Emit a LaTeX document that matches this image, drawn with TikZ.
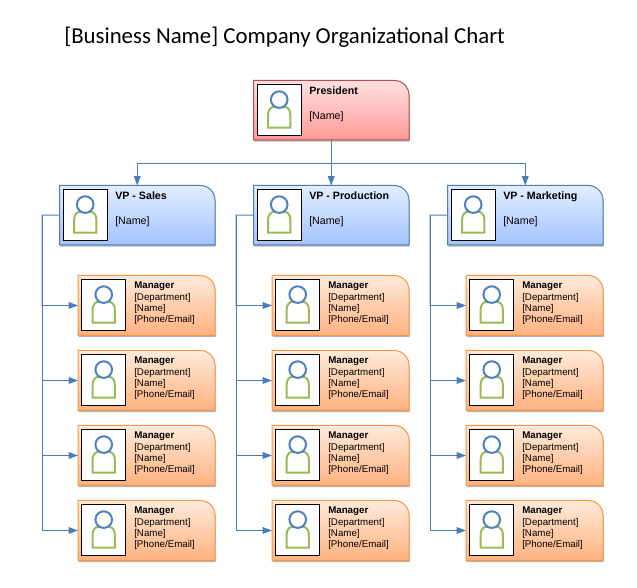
\documentclass[tikz,border=0pt]{standalone}
\usepackage{fontspec}
\setmainfont{Liberation Sans}
\newfontfamily\titlefont{Carlito}
\definecolor{orgblue}{RGB}{74,126,187}
\definecolor{orggreen}{RGB}{155,187,89}
\definecolor{orgcircle}{RGB}{79,129,189}
\definecolor{redtop}{RGB}{255,224,224}
\definecolor{redbot}{RGB}{255,153,153}
\definecolor{redline}{RGB}{190,75,72}
\definecolor{bluetop}{RGB}{226,237,255}
\definecolor{bluebot}{RGB}{163,196,255}
\definecolor{orangetop}{RGB}{255,234,218}
\definecolor{orangebot}{RGB}{255,178,127}
\definecolor{orangeline}{RGB}{247,150,70}
\usetikzlibrary{arrows.meta,positioning,calc}

% one card: name, x, y, width, height, colour style
\newcommand{\orgcard}[6]{
  \node[cardbase, minimum width=#4*0.75pt, minimum height=#5*0.75pt] (#1) at (#2,#3) {};
  \fill[black!30, transform canvas={xshift=0.5pt, yshift=-1.3pt}] (#1.south west) -- (#1.north west)
    [rounded corners=11pt] -- (#1.north east) [sharp corners] -- (#1.south east) -- cycle;
  \shade[#6] (#1.south west) -- (#1.north west)
    [rounded corners=11pt] -- (#1.north east) [sharp corners] -- (#1.south east) -- cycle;
  \node[photo] (#1p) at ([xshift=2.8pt, yshift=-3pt]#1.north west) {};
  \pic at (#1p.center) {person};
}
\newcommand{\mgrinfo}{\textbf{Manager}\\{[Department]}\\{[Name]}\\{[Phone/Email]}}

\begin{document}
\begin{tikzpicture}[
  x=0.75pt, y=-0.75pt,
  cardbase/.style={rectangle, anchor=north west, inner sep=0pt, outer sep=0pt},
  photo/.style={rectangle, anchor=north west, inner sep=0pt, outer sep=0pt,
    minimum width=33pt, minimum height=38.4pt, draw=black, line width=0.7pt, fill=white},
  redcard/.style={top color=redtop, bottom color=redbot, draw=redline, line width=0.75pt},
  bluecard/.style={top color=bluetop, bottom color=bluebot, draw=orgblue, line width=0.75pt},
  orangecard/.style={top color=orangetop, bottom color=orangebot, draw=orangeline, line width=0.75pt},
  headtext/.style={anchor=north west, inner sep=0pt, align=left, font=\fontsize{8}{9.4}\selectfont},
  mgrtext/.style={anchor=north west, inner sep=0pt, align=left, font=\fontsize{7.3}{8.5}\selectfont},
  conn/.style={-{Triangle[length=7pt, width=5pt]}, draw=orgblue, line width=0.72pt},
  person/.pic={
    \draw[orggreen, line width=1.5pt] (-11.2,17.5) -- (-11.2,5)
      .. controls (-11.2,-1) and (-8,-3.5) .. (-4,-3.5) -- (4,-3.5)
      .. controls (8,-3.5) and (11.2,-1) .. (11.2,5) -- (11.2,17.5) -- cycle;
    \draw[orgcircle, line width=1.5pt, fill=white] (0,-10.5) circle (8.3);
  }
]
\useasboundingbox (0,0) rectangle (637,588);

\node[anchor=west, inner sep=0pt, font=\titlefont\fontsize{17.1}{20}\selectfont] (title) at (64,37.5)
  {[Business Name] Company Organizational Chart};

\orgcard{pres}{253.5}{80.5}{155.5}{59.5}{redcard}
\orgcard{vpsales}{59.5}{185.5}{155.5}{59.5}{bluecard}
\orgcard{vpprod}{253.5}{185.5}{155.5}{59.5}{bluecard}
\orgcard{vpmark}{447.5}{185.5}{155.5}{59.5}{bluecard}

\orgcard{ma}{78}{275.5}{137}{60}{orangecard}
\orgcard{mb}{78}{350.5}{137}{60}{orangecard}
\orgcard{mc}{78}{425.5}{137}{60}{orangecard}
\orgcard{md}{78}{500.5}{137}{60}{orangecard}
\orgcard{pa}{272}{275.5}{137}{60}{orangecard}
\orgcard{pb}{272}{350.5}{137}{60}{orangecard}
\orgcard{pc}{272}{425.5}{137}{60}{orangecard}
\orgcard{pd}{272}{500.5}{137}{60}{orangecard}
\orgcard{ka}{466}{275.5}{137}{60}{orangecard}
\orgcard{kb}{466}{350.5}{137}{60}{orangecard}
\orgcard{kc}{466}{425.5}{137}{60}{orangecard}
\orgcard{kd}{466}{500.5}{137}{60}{orangecard}

\node[headtext] (prest) at (309,86.5) {\textbf{President}\\[9.4pt][Name]};
\node[headtext] (vpsalest) at (115,191.5) {\textbf{VP - Sales}\\[9.4pt][Name]};
\node[headtext] (vpprodt) at (309,191.5) {\textbf{VP - Production}\\[9.4pt][Name]};
\node[headtext] (vpmarkt) at (503,191.5) {\textbf{VP - Marketing}\\[9.4pt][Name]};

\node[mgrtext] (mat) at (134,282) {\mgrinfo};
\node[mgrtext] (mbt) at (134,357) {\mgrinfo};
\node[mgrtext] (mct) at (134,432) {\mgrinfo};
\node[mgrtext] (mdt) at (134,507) {\mgrinfo};
\node[mgrtext] (pat) at (328,282) {\mgrinfo};
\node[mgrtext] (pbt) at (328,357) {\mgrinfo};
\node[mgrtext] (pct) at (328,432) {\mgrinfo};
\node[mgrtext] (pdt) at (328,507) {\mgrinfo};
\node[mgrtext] (kat) at (522,282) {\mgrinfo};
\node[mgrtext] (kbt) at (522,357) {\mgrinfo};
\node[mgrtext] (kct) at (522,432) {\mgrinfo};
\node[mgrtext] (kdt) at (522,507) {\mgrinfo};

\coordinate (split) at (pres.south |- 0,163);
\draw[conn] (pres.south) -- (vpprod.north);
\draw[conn] (split) -| (vpsales.north);
\draw[conn] (split) -| (vpmark.north);

\coordinate (busm) at (42,215);
\coordinate (busp) at (236,215);
\coordinate (busk) at (430,215);
\draw[conn] (vpsales.west) -- (busm) |- (ma.west);
\draw[conn] (busm) |- (mb.west);
\draw[conn] (busm) |- (mc.west);
\draw[conn] (busm) |- (md.west);
\draw[conn] (vpprod.west) -- (busp) |- (pa.west);
\draw[conn] (busp) |- (pb.west);
\draw[conn] (busp) |- (pc.west);
\draw[conn] (busp) |- (pd.west);
\draw[conn] (vpmark.west) -- (busk) |- (ka.west);
\draw[conn] (busk) |- (kb.west);
\draw[conn] (busk) |- (kc.west);
\draw[conn] (busk) |- (kd.west);
\end{tikzpicture}
\end{document}
